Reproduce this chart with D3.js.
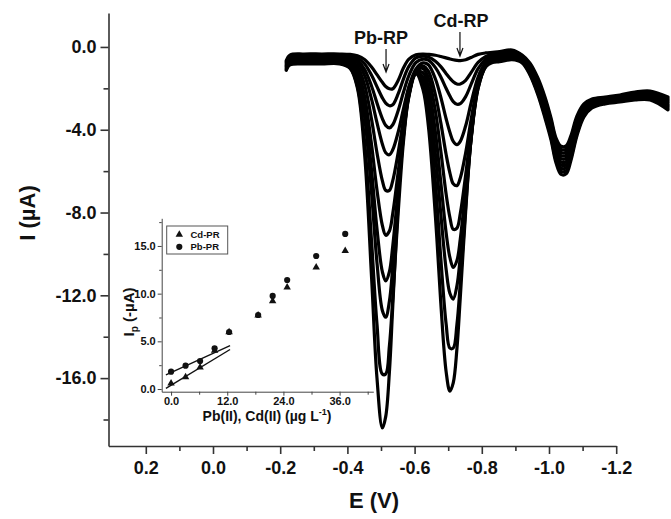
<!DOCTYPE html>
<html><head><meta charset="utf-8">
<script src="https://cdn.jsdelivr.net/npm/d3@7"></script>
<style>
body{margin:0;background:#fff}
svg{display:block}
text{font-family:"Liberation Sans",Arial,sans-serif;font-weight:bold;fill:#111}
</style>
</head><body>
<svg id="chart" width="671" height="519"></svg>
<script>
// ---- main voltammograms: potentials (V) and currents (µA) for 10 additions ----
const potentials = [-0.218,-0.229,-0.271,-0.324,-0.377,-0.408,-0.430,-0.451,-0.472,-0.488,-0.504,-0.514,-0.525,-0.535,-0.551,-0.567,-0.583,-0.604,-0.625,-0.641,-0.662,-0.678,-0.694,-0.705,-0.715,-0.726,-0.736,-0.752,-0.768,-0.789,-0.811,-0.832,-0.853,-0.890,-0.920,-0.943,-0.967,-0.988,-1.006,-1.021,-1.036,-1.051,-1.065,-1.083,-1.104,-1.128,-1.167,-1.211,-1.256,-1.301,-1.354];
const curve0 = [-0.66,-0.39,-0.34,-0.34,-0.34,-0.36,-0.43,-0.61,-0.97,-1.34,-1.71,-1.91,-2.02,-2.02,-1.62,-1.01,-0.59,-0.38,-0.34,-0.36,-0.40,-0.46,-0.53,-0.58,-0.62,-0.65,-0.66,-0.62,-0.51,-0.36,-0.29,-0.26,-0.23,-0.15,-0.39,-0.77,-1.50,-2.42,-3.43,-4.40,-4.80,-4.78,-4.30,-3.34,-2.75,-2.51,-2.42,-2.32,-2.18,-2.13,-2.42];
const curve1 = [-0.71,-0.45,-0.39,-0.39,-0.39,-0.42,-0.54,-0.81,-1.37,-1.92,-2.46,-2.71,-2.84,-2.79,-2.27,-1.54,-0.94,-0.53,-0.45,-0.49,-0.69,-0.95,-1.29,-1.51,-1.68,-1.79,-1.79,-1.61,-1.24,-0.75,-0.47,-0.34,-0.30,-0.19,-0.43,-0.83,-1.59,-2.53,-3.55,-4.53,-4.95,-4.93,-4.43,-3.45,-2.82,-2.56,-2.46,-2.36,-2.22,-2.18,-2.49];
const curve2 = [-0.76,-0.50,-0.45,-0.45,-0.45,-0.50,-0.66,-1.08,-1.90,-2.71,-3.46,-3.79,-3.91,-3.76,-3.08,-2.18,-1.38,-0.75,-0.59,-0.64,-1.00,-1.45,-2.01,-2.37,-2.64,-2.77,-2.74,-2.40,-1.81,-1.05,-0.60,-0.41,-0.35,-0.23,-0.47,-0.90,-1.68,-2.64,-3.67,-4.67,-5.10,-5.08,-4.57,-3.55,-2.89,-2.61,-2.49,-2.40,-2.26,-2.23,-2.56];
const curve3 = [-0.82,-0.55,-0.50,-0.50,-0.50,-0.56,-0.77,-1.37,-2.53,-3.66,-4.69,-5.11,-5.21,-4.97,-4.12,-2.98,-1.93,-1.06,-0.77,-0.86,-1.55,-2.43,-3.48,-4.12,-4.56,-4.72,-4.56,-3.81,-2.72,-1.45,-0.75,-0.48,-0.40,-0.28,-0.52,-0.96,-1.77,-2.76,-3.78,-4.80,-5.25,-5.23,-4.70,-3.66,-2.96,-2.66,-2.53,-2.43,-2.31,-2.27,-2.63];
const curve4 = [-0.87,-0.60,-0.55,-0.55,-0.55,-0.65,-0.95,-1.82,-3.51,-5.11,-6.46,-6.93,-6.93,-6.46,-5.11,-3.51,-2.15,-1.15,-0.92,-1.17,-2.31,-3.67,-5.21,-6.08,-6.61,-6.70,-6.33,-5.11,-3.53,-1.79,-0.88,-0.55,-0.46,-0.32,-0.56,-1.03,-1.86,-2.87,-3.90,-4.94,-5.40,-5.38,-4.83,-3.77,-3.03,-2.71,-2.57,-2.47,-2.35,-2.32,-2.70];
const curve5 = [-0.92,-0.66,-0.60,-0.60,-0.60,-0.73,-1.15,-2.38,-4.74,-6.91,-8.62,-9.10,-8.89,-8.05,-6.06,-3.93,-2.29,-1.17,-1.04,-1.49,-3.11,-5.03,-7.13,-8.23,-8.81,-8.75,-8.05,-6.18,-4.03,-1.89,-0.90,-0.58,-0.50,-0.36,-0.60,-1.09,-1.96,-2.98,-4.02,-5.07,-5.56,-5.53,-4.97,-3.87,-3.10,-2.76,-2.60,-2.51,-2.39,-2.37,-2.77];
const curve6 = [-0.97,-0.71,-0.66,-0.66,-0.66,-0.79,-1.33,-2.90,-5.98,-8.78,-10.86,-11.30,-10.86,-9.61,-6.92,-4.26,-2.38,-1.23,-1.24,-1.93,-4.12,-6.54,-9.00,-10.17,-10.65,-10.32,-9.28,-6.89,-4.35,-1.99,-0.94,-0.63,-0.55,-0.40,-0.64,-1.16,-2.05,-3.09,-4.14,-5.21,-5.71,-5.68,-5.10,-3.98,-3.17,-2.80,-2.64,-2.55,-2.43,-2.42,-2.83];
const curve7 = [-1.03,-0.76,-0.71,-0.71,-0.71,-0.86,-1.47,-3.35,-7.08,-10.42,-12.73,-13.06,-12.29,-10.63,-7.30,-4.29,-2.30,-1.24,-1.46,-2.45,-5.20,-8.07,-10.77,-11.90,-12.18,-11.54,-10.13,-7.28,-4.48,-1.99,-0.97,-0.68,-0.60,-0.45,-0.69,-1.22,-2.14,-3.21,-4.26,-5.34,-5.86,-5.83,-5.23,-4.09,-3.24,-2.85,-2.68,-2.59,-2.48,-2.47,-2.90];
const curve8 = [-1.08,-0.82,-0.76,-0.76,-0.76,-1.00,-1.91,-4.55,-9.41,-13.38,-15.80,-15.80,-14.45,-12.15,-8.04,-4.55,-2.39,-1.31,-1.70,-3.01,-6.56,-10.22,-13.41,-14.55,-14.55,-13.41,-11.41,-7.74,-4.48,-1.88,-0.94,-0.70,-0.66,-0.55,-0.73,-1.29,-2.23,-3.32,-4.37,-5.48,-6.01,-5.98,-5.37,-4.19,-3.31,-2.90,-2.71,-2.62,-2.52,-2.51,-2.97];
const curve9 = [-1.13,-0.87,-0.82,-0.82,-0.82,-1.04,-2.00,-5.13,-11.16,-15.99,-18.41,-17.86,-15.71,-12.54,-7.55,-3.89,-1.95,-1.28,-2.06,-3.82,-8.20,-12.38,-15.71,-16.63,-16.23,-14.58,-12.10,-7.94,-4.45,-1.85,-0.96,-0.75,-0.71,-0.62,-0.77,-1.35,-2.32,-3.43,-4.49,-5.61,-6.16,-6.13,-5.50,-4.30,-3.38,-2.95,-2.75,-2.66,-2.56,-2.56,-3.04];
const curves = [curve9, curve8, curve7, curve6, curve5, curve4, curve3, curve2, curve1, curve0];

const xTicks = [0.2, 0.0, -0.2, -0.4, -0.6, -0.8, -1.0, -1.2];
const xMinor = [0.1, -0.1, -0.3, -0.5, -0.7, -0.9, -1.1];
const yTicks = [0, -4, -8, -12, -16];
const yMinor = [-2, -6, -10, -14, -18];

// peak annotations
const peakLabels = ["Pb-RP", "Cd-RP"];
const peakLabelE = [-0.500, -0.738];
const peakLabelI = [0.12, 0.97];     // text baseline
const peakArrowE = [-0.515, -0.735];
const peakArrowTop = [-0.10, 0.72];
const peakArrowTip = [-1.21, -0.44];

// ---- inset calibration data ----
const conc = [0, 3.1, 6.2, 9.3, 12.4, 18.6, 21.7, 24.8, 31.0, 37.2];
const ipPb = [1.82, 2.45, 2.94, 4.27, 5.98, 7.76, 9.76, 11.43, 13.95, 16.26];
const ipCd = [0.59, 1.26, 2.27, 4.02, 5.98, 7.73, 9.23, 10.66, 12.76, 14.48];
const fitRange = [-1.1, 12.6];
const fitPb = [0.223, 1.74];  // slope, intercept
const fitCd = [0.298, 0.39];
const insetXTicks = [0, 12, 24, 36];
const insetXMinor = [6, 18, 30, 42];
const insetYTicks = [0, 5, 10, 15];
const insetYMinor = [2.5, 7.5, 12.5, 17.5];
const legendNames = ["Cd-PR", "Pb-PR"];

const svg = d3.select("#chart");
const fmt = d => d.toFixed(1);
const FONT = '"Liberation Sans",Arial,sans-serif';

// ---- main scales ----
const x = d3.scaleLinear().domain([0.311, -1.2]).range([108.5, 616.2]);
const y = d3.scaleLinear().domain([1.64, -19.28]).range([13, 446]);

// curves
const line = d3.line().x((d,i) => x(potentials[i])).y(d => y(d)).curve(d3.curveCatmullRom.alpha(0.5));
svg.append("g").selectAll("path").data(curves).join("path")
  .attr("d", line).attr("fill", "none").attr("stroke", "#000")
  .attr("stroke-width", 3.2).attr("stroke-linejoin", "round").attr("stroke-linecap", "round");

// axes
const axisColor = "#333";
const gx = svg.append("g").attr("transform", `translate(0,${y(-19.28)})`)
  .call(d3.axisBottom(x).tickValues(xTicks).tickSize(8).tickSizeOuter(0).tickPadding(7).tickFormat(fmt));
const gxm = svg.append("g").attr("transform", `translate(0,${y(-19.28)})`)
  .call(d3.axisBottom(x).tickValues(xMinor).tickSize(5).tickSizeOuter(0).tickFormat(""));
const gy = svg.append("g").attr("transform", `translate(${x(0.311)},0)`)
  .call(d3.axisLeft(y).tickValues(yTicks).tickSize(8).tickSizeOuter(0).tickPadding(4).tickFormat(fmt));
const gym = svg.append("g").attr("transform", `translate(${x(0.311)},0)`)
  .call(d3.axisLeft(y).tickValues(yMinor).tickSize(5).tickSizeOuter(0).tickFormat(""));
[gx, gxm, gy, gym].forEach(g => {
  g.select(".domain").attr("stroke", axisColor).attr("stroke-width", 1.6);
  g.selectAll(".tick line").attr("stroke", axisColor).attr("stroke-width", 1.6);
  g.selectAll(".tick text").style("font-size", "18px").style("font-family", FONT).style("font-weight", "bold").attr("fill", "#111");
});
gxm.select(".domain").remove(); gym.select(".domain").remove();

svg.append("text").attr("x", 374).attr("y", 508).attr("text-anchor", "middle")
  .style("font-size", "22px").text("E (V)");
svg.append("text").attr("transform", "translate(35,213) rotate(-90)").attr("text-anchor", "middle")
  .style("font-size", "22px").text("I (\u00B5A)");

// peak labels and arrows
peakLabels.forEach((lab, i) => {
  svg.append("text").attr("x", x(peakLabelE[i])).attr("y", y(peakLabelI[i])).attr("text-anchor", "middle")
    .style("font-size", "18px").text(lab);
  const ax = x(peakArrowE[i]);
  const y0 = y(peakArrowTop[i]), y1 = y(peakArrowTip[i]);
  svg.append("path").attr("d", `M${ax},${y0}L${ax},${y1}M${ax-3},${y1-8}L${ax},${y1}L${ax+3},${y1-8}`)
    .attr("fill", "none").attr("stroke", "#111").attr("stroke-width", 1.2);
});

// ---- inset ----
const ix = d3.scaleLinear().domain([-2, 43.2]).range([161.7, 373.3]);
const iy = d3.scaleLinear().domain([-0.28, 17.9]).range([391.7, 218.3]);
const ig = svg.append("g");
const iax = ig.append("g").attr("transform", `translate(0,${iy(-0.28)})`)
  .call(d3.axisBottom(ix).tickValues(insetXTicks).tickSize(4).tickSizeOuter(0).tickPadding(2).tickFormat(fmt));
const iaxm = ig.append("g").attr("transform", `translate(0,${iy(-0.28)})`)
  .call(d3.axisBottom(ix).tickValues(insetXMinor).tickSize(3).tickSizeOuter(0).tickFormat(""));
const iay = ig.append("g").attr("transform", `translate(${ix(-2)},0)`)
  .call(d3.axisLeft(iy).tickValues(insetYTicks).tickSize(4).tickSizeOuter(0).tickPadding(2).tickFormat(fmt));
const iaym = ig.append("g").attr("transform", `translate(${ix(-2)},0)`)
  .call(d3.axisLeft(iy).tickValues(insetYMinor).tickSize(2.5).tickSizeOuter(0).tickFormat(""));
[iax, iaxm, iay, iaym].forEach(g => {
  g.select(".domain").attr("stroke", "#444").attr("stroke-width", 1);
  g.selectAll(".tick line").attr("stroke", "#444").attr("stroke-width", 1);
  g.selectAll(".tick text").style("font-size", "11px").style("font-family", FONT).style("font-weight", "bold").attr("fill", "#222");
});
iaxm.select(".domain").remove(); iaym.select(".domain").remove();

// fit lines
[fitPb, fitCd].forEach(f => {
  ig.append("line").attr("x1", ix(fitRange[0])).attr("y1", iy(f[1] + f[0]*fitRange[0]))
    .attr("x2", ix(fitRange[1])).attr("y2", iy(f[1] + f[0]*fitRange[1]))
    .attr("stroke", "#111").attr("stroke-width", 1.4);
});
const tri = d3.symbol().type(d3.symbolTriangle).size(24);
const cir = d3.symbol().type(d3.symbolCircle).size(30);
ig.append("g").selectAll("path").data(conc).join("path")
  .attr("transform", (d,i) => `translate(${ix(d)},${iy(ipCd[i])})`).attr("d", tri).attr("fill", "#111");
ig.append("g").selectAll("path").data(conc).join("path")
  .attr("transform", (d,i) => `translate(${ix(d)},${iy(ipPb[i])})`).attr("d", cir).attr("fill", "#111");

// legend
ig.append("rect").attr("x", 166.7).attr("y", 226).attr("width", 61).attr("height", 28)
  .attr("fill", "#fff").attr("stroke", "#555").attr("stroke-width", 1);
legendNames.forEach((n, i) => {
  const ly = 234.5 + i*12.3;
  ig.append("path").attr("transform", `translate(179.3,${ly})`).attr("d", i === 0 ? tri : cir).attr("fill", "#111");
  ig.append("text").attr("x", 190.5).attr("y", ly + 3.5).style("font-size", "9.5px").text(n);
});

// inset axis titles
const ixl = ig.append("text").attr("x", 267).attr("y", 421).attr("text-anchor", "middle").style("font-size", "14px");
ixl.append("tspan").text("Pb(II), Cd(II) (\u00B5g L");
ixl.append("tspan").attr("dy", -6).style("font-size", "9px").text("-1");
ixl.append("tspan").attr("dy", 6).text(")");
const iyl = ig.append("text").attr("transform", "translate(134,312) rotate(-90)").attr("text-anchor", "middle").style("font-size", "15px");
iyl.append("tspan").text("I");
iyl.append("tspan").attr("dy", 4).style("font-size", "10px").text("p");
iyl.append("tspan").attr("dy", -4).text(" (-\u00B5A)");
</script>
</body></html>
